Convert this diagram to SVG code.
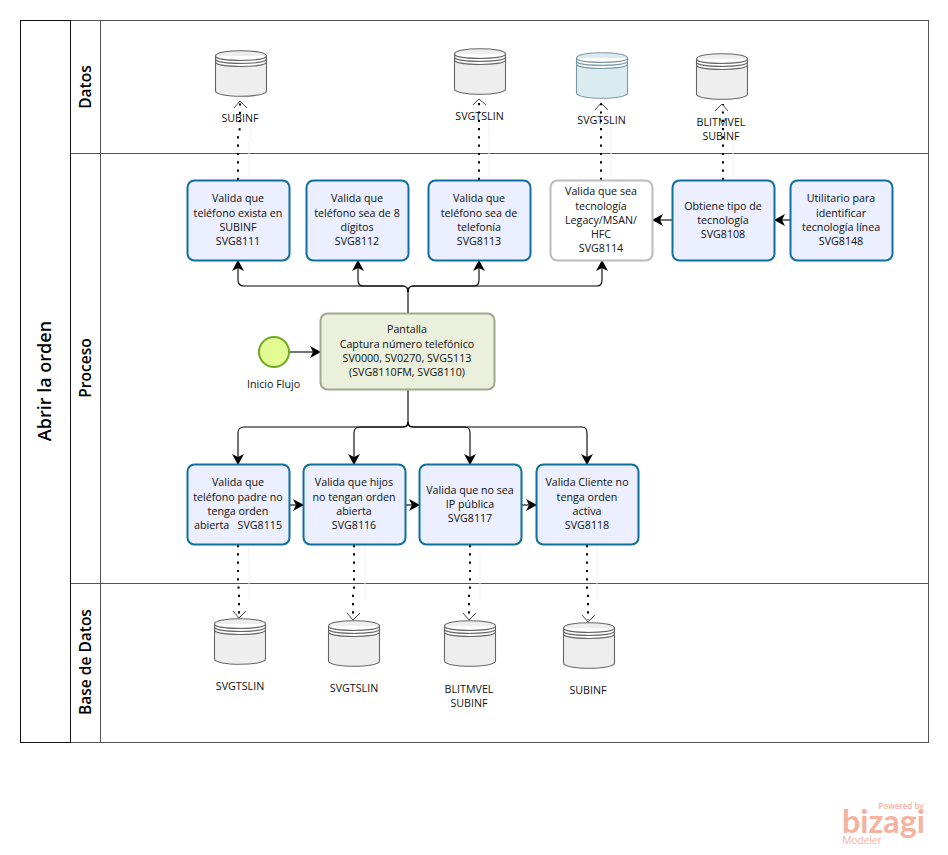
<svg xmlns="http://www.w3.org/2000/svg" width="948" height="855" viewBox="0 0 948 855">
<style>
text{font-family:"Open Sans","Noto Sans","Liberation Sans",sans-serif;font-size:10.7px;fill:#111;text-anchor:middle;white-space:pre}
.lane{fill:#fff;stroke:#555;stroke-width:1}
.hd{font-size:15.5px;font-weight:600;fill:#000}
.task rect{fill:#ebefff;stroke:#0f6f9e;stroke-width:2}
.flow{fill:none;stroke:#000;stroke-width:1.1}
.dot{fill:none;stroke:#000;stroke-width:2;stroke-dasharray:2.2 6.1}
.ghost{fill:none;stroke:#f3f3f3;stroke-width:1}
.open{fill:none;stroke:#333;stroke-width:.9}
.cyl{fill:#eee;stroke:#666;stroke-width:1.1}
.cylb{fill:#daecf2;stroke:#7c98a3;stroke-width:1.1}
</style>
<defs>
<marker id="a" markerUnits="userSpaceOnUse" markerWidth="14" markerHeight="14" refX="10" refY="6" orient="auto"><path d="M0 0L11 6L0 12L3 6Z" fill="#000"/></marker>
<g id="c"><path d="M0 9C0 2 51 2 51 9V44C51 51 0 51 0 44Z M0 9C0 15 51 15 51 9 M0 12C0 18 51 18 51 12 M0 15C0 21 51 21 51 15" fill="inherit" stroke="inherit"/></g>
</defs>
<rect width="948" height="855" fill="#fff"/>
<g id="pool">
<rect x="100.500" y="20.500" width="828" height="722" class="lane"/>
<rect x="70.500" y="20.500" width="30" height="722" class="lane"/>
<path d="M70.500 153.500H928.500M70.500 583.500H928.500" class="lane"/>
<rect x="20.500" y="20.500" width="50" height="722" fill="#fff" stroke="#111"/>
<text transform="translate(51 381) rotate(-90)" style="font-size:18px;font-weight:600;fill:#000">Abrir la orden</text>
<text transform="translate(91 87) rotate(-90)" class="hd">Datos</text>
<text transform="translate(91 368) rotate(-90)" class="hd">Proceso</text>
<text transform="translate(91 662) rotate(-90)" class="hd">Base de Datos</text>
</g>
<g id="connectors">
<path class="ghost" d="M249 180V142L251 140V116M489 180V116M611 180V120M733 180V125M249 545V600M365 545V600M480 545V600M597 545V600"/>
<path class="dot" d="M238 180V135L240 128V101"/>
<path class="dot" d="M479 180V99"/>
<path class="dot" d="M601 180V103"/>
<path class="dot" d="M723 180V104"/>
<path class="dot" d="M238 545V585L239 590V616"/>
<path class="dot" d="M354 545V590L353 596V618"/>
<path class="dot" d="M470 545V590L469 596V618"/>
<path class="dot" d="M587 545V590L588 596V620"/>
<path class="open" d="M234 108L240 101L247 108M473 105L479 99L486 105M595 110L601 103L608 110M715 111L722 104L728 111M233 611L239 618L246 611M347 613L353 620L360 613M463 613L469 620L476 613M582 615L588 622L595 615"/>
<path class="flow" marker-end="url(#a)" d="M408 313V292Q408 286 403 286H244Q238 286 238 280V261"/>
<path class="flow" marker-end="url(#a)" d="M408 292Q408 286 403 286H363Q358 286 358 280V261"/>
<path class="flow" marker-end="url(#a)" d="M408 292Q408 286 413 286H474Q479 286 479 280V261"/>
<path class="flow" marker-end="url(#a)" d="M408 292Q408 286 413 286H597Q602 286 602 280V261"/>
<path class="flow" marker-end="url(#a)" d="M408 390V422Q408 427 403 427H244Q238 427 238 433V464"/>
<path class="flow" marker-end="url(#a)" d="M408 422Q408 427 403 427H360Q354 427 354 433V464"/>
<path class="flow" marker-end="url(#a)" d="M408 422Q408 427 413 427H465Q470 427 470 433V464"/>
<path class="flow" marker-end="url(#a)" d="M408 422Q408 427 413 427H582Q587 427 587 433V464"/>
<path class="flow" marker-end="url(#a)" d="M289 352H320"/>
<path class="flow" marker-end="url(#a)" d="M672 220H653"/>
<path class="flow" marker-end="url(#a)" d="M790 220H775"/>
<path class="flow" marker-end="url(#a)" d="M290 505H303"/>
<path class="flow" marker-end="url(#a)" d="M406 505H419"/>
<path class="flow" marker-end="url(#a)" d="M522 505H536"/>
</g>
<g id="start"><circle cx="274" cy="352" r="15" fill="#e2fb93" stroke="#6ea81e" stroke-width="2"/><text x="273.500" y="388">Inicio Flujo</text></g>
<g id="n8111" class="task"><rect x="187.500" y="180.500" width="102" height="80" rx="7"/><text x="238" y="202">Valida que</text><text x="238" y="217">teléfono exista en</text><text x="238" y="231">SUBINF</text><text x="238" y="245">SVG8111</text></g>
<g id="n8112" class="task"><rect x="306.500" y="180.500" width="102" height="80" rx="7"/><text x="357" y="202">Valida que</text><text x="357" y="217">teléfono sea de 8</text><text x="357" y="231">dígitos</text><text x="357" y="245">SVG8112</text></g>
<g id="n8113" class="task"><rect x="428.500" y="180.500" width="102" height="80" rx="7"/><text x="479" y="202">Valida que</text><text x="479" y="217">teléfono sea de</text><text x="479" y="231">telefonía</text><text x="479" y="245">SVG8113</text></g>
<g id="n8114" class="task"><rect x="550.500" y="180.500" width="102" height="80" rx="7" style="fill:#fff;stroke:#bbb"/><text x="601" y="195">Valida que sea</text><text x="601" y="210">tecnología</text><text x="601" y="224">Legacy/MSAN/</text><text x="601" y="238">HFC</text><text x="601" y="252">SVG8114</text></g>
<g id="n8108" class="task"><rect x="672.500" y="180.500" width="102" height="80" rx="7"/><text x="723" y="210">Obtiene tipo de</text><text x="723" y="224">tecnología</text><text x="723" y="238">SVG8108</text></g>
<g id="n8148" class="task"><rect x="790.500" y="180.500" width="102" height="80" rx="7"/><text x="841" y="202">Utilitario para</text><text x="841" y="217">identificar</text><text x="841" y="231">tecnología línea</text><text x="841" y="245">SVG8148</text></g>
<g id="pantalla"><rect x="320.500" y="313.500" width="174" height="76" rx="7" fill="#ebf0dc" stroke="#a3a78f" stroke-width="2"/><text x="407" y="333">Pantalla</text><text x="407" y="348">Captura número telefónico</text><text x="407" y="362">SV0000, SV0270, SVG5113</text><text x="407" y="376">(SVG8110FM, SVG8110)</text></g>
<g id="n8115" class="task"><rect x="187.500" y="464.500" width="102" height="80" rx="7"/><text x="238" y="486">Valida que</text><text x="238" y="501">teléfono padre no</text><text x="238" y="515">tenga orden</text><text x="238" y="529">abierta   SVG8115</text></g>
<g id="n8116" class="task"><rect x="303.500" y="464.500" width="102" height="80" rx="7"/><text x="354" y="486">Valida que hijos</text><text x="354" y="501">no tengan orden</text><text x="354" y="515">abierta</text><text x="354" y="529">SVG8116</text></g>
<g id="n8117" class="task"><rect x="419.500" y="464.500" width="102" height="80" rx="7"/><text x="470" y="494">Valida que no sea</text><text x="470" y="508">IP pública</text><text x="470" y="522">SVG8117</text></g>
<g id="n8118" class="task"><rect x="536.500" y="464.500" width="102" height="80" rx="7"/><text x="587" y="486">Valida Cliente no</text><text x="587" y="501">tenga orden</text><text x="587" y="515">activa</text><text x="587" y="529">SVG8118</text></g>
<g id="db1"><use href="#c" x="215.500" y="47" class="cyl"/><text x="240" y="122">SUBINF</text></g>
<g id="db2"><use href="#c" x="454.500" y="45" class="cyl"/><text x="479.500" y="120">SVGTSLIN</text></g>
<g id="db3"><use href="#c" x="576.500" y="49" class="cylb"/><text x="601.500" y="124">SVGTSLIN</text></g>
<g id="db4"><use href="#c" x="696.500" y="50" class="cyl"/><text x="721" y="126">BLITMVEL</text><text x="721" y="140">SUBINF</text></g>
<g id="db5"><use href="#c" x="214.500" y="615" class="cyl"/><text x="240" y="690">SVGTSLIN</text></g>
<g id="db6"><use href="#c" x="328.500" y="617" class="cyl"/><text x="354" y="692">SVGTSLIN</text></g>
<g id="db7"><use href="#c" x="444.500" y="617" class="cyl"/><text x="469" y="693">BLITMVEL</text><text x="469" y="707">SUBINF</text></g>
<g id="db8"><use href="#c" x="563.500" y="619" class="cyl"/><text x="588" y="694">SUBINF</text></g>
<g id="logo" opacity=".85">
<text x="901" y="809" style="font-size:8px;font-weight:600;fill:#f6a594">Powered by</text>
<text x="842" y="833" textLength="83" lengthAdjust="spacingAndGlyphs" style="font-size:32px;font-weight:700;fill:#f4a58f;text-anchor:start;font-family:Lato,'Open Sans',sans-serif">bizagi</text>
<text x="862" y="844" style="font-size:10px;fill:#f3a592">Modeler</text>
</g>
</svg>
